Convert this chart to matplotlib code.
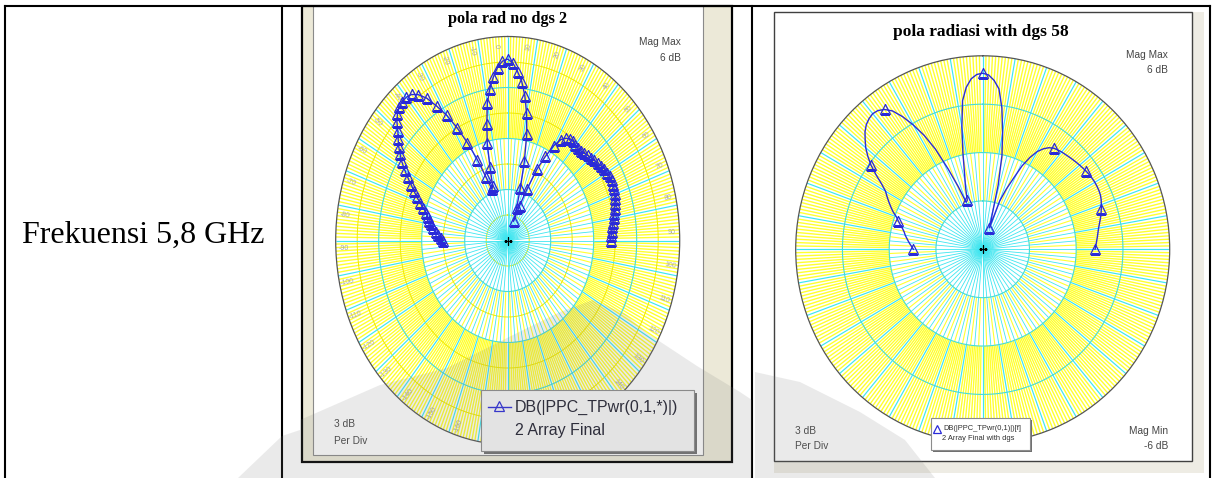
import numpy as np
import matplotlib
matplotlib.use("Agg")
import matplotlib.pyplot as plt
from matplotlib.patches import Rectangle, Polygon
from matplotlib.lines import Line2D

W, H = 1215, 478

# angles of the computed pattern, degrees (0 = broadside, clockwise positive)
angles = np.arange(-90, 91, 2)

# |PPC_TPwr| in dB, 2 Array Final (no DGS)
db_no_dgs = [-1.5, -1.35, -1.15, -0.95, -0.75, -0.55, -0.4, -0.25, -0.1, 0.2,
             0.5, 0.85, 1.15, 1.5, 1.9, 2.3, 2.7, 3.05, 3.4, 3.7,
             4.0, 4.4, 4.7, 4.9, 5.0, 5.0, 4.9, 4.6, 4.1, 3.3,
             2.5, 1.5, 0.4, -0.8, -2.0, -2.8, -2.6, -1.5, -0.1, 1.0,
             2.2, 3.0, 3.65, 4.2, 4.55, 4.67, 4.45, 3.95, 3.4, 2.6,
             1.6, 0.4, -1.2, -2.8, -4.0, -4.8, -3.8, -2.7, -1.3, -0.4,
             0.45, 1.0, 1.25, 1.4, 1.4, 1.35, 1.3, 1.32, 1.4, 1.5,
             1.58, 1.65, 1.75, 1.85, 1.95, 2.0, 2.05, 2.08, 2.06, 2.02,
             1.98, 1.9, 1.8, 1.7, 1.6, 1.5, 1.42, 1.35, 1.28, 1.22,
             1.19]

# |PPC_TPwr| in dB, 2 Array Final with dgs
db_dgs = [-1.55, -1.45, -1.32, -1.2, -1.08, -0.95, -0.85, -0.7, -0.5, -0.3,
          -0.1, 0.2, 0.45, 0.7, 0.95, 1.2, 1.65, 2.25, 2.85, 3.35,
          3.8, 4.15, 4.5, 4.75, 4.9, 4.98, 4.92, 4.72, 4.35, 3.7,
          2.9, 2.0, 0.9, -0.55, -1.8, -2.9, -2.8, -2.0, -1.2, 0.1,
          1.7, 3.3, 4.1, 4.6, 4.85, 4.92, 4.82, 4.5, 4.0, 2.85,
          1.35, -0.05, -1.9, -3.9, -4.6, -2.8, -2.0, -1.25, -0.25, 0.45,
          1.0, 1.35, 1.6, 1.75, 1.82, 1.88, 1.92, 1.97, 2.02, 2.07,
          2.12, 2.17, 2.22, 2.26, 2.29, 2.31, 2.31, 2.3, 2.27, 2.2,
          2.1, 2.0, 1.9, 1.78, 1.66, 1.55, 1.47, 1.4, 1.33, 1.27,
          1.21]

mag_min, mag_max, per_div = -6, 6, 3
angle_ticks = list(range(-170, 181, 10))

CYAN = "#3ee6f0"
YELLOW = "#ffff30"
RING = "#45dcd8"
BLUE = "#2a2ad8"
SERIF = ["Liberation Serif", "DejaVu Serif"]
SANS = ["Liberation Sans", "DejaVu Sans"]

fig = plt.figure(figsize=(W / 100, H / 100), dpi=100, facecolor="white")

# page layer in pixel coordinates
bg = fig.add_axes([0, 0, 1, 1], zorder=0)
bg.set_xlim(0, W)
bg.set_ylim(H, 0)
bg.axis("off")

top = fig.add_axes([0, 0, 1, 1], zorder=5)
top.set_xlim(0, W)
top.set_ylim(H, 0)
top.axis("off")
top.patch.set_visible(False)


def polar_at(cx, cy, rx, ry):
    ax = fig.add_axes([(cx - rx) / W, (H - cy - ry) / H, 2 * rx / W, 2 * ry / H],
                      projection="polar", zorder=2)
    ax.set_aspect("auto")
    ax.set_theta_zero_location("N")
    ax.set_theta_direction(-1)
    ax.set_ylim(mag_min, mag_max)
    ax.grid(False)
    ax.set_xticks([])
    ax.set_yticks([])
    ax.spines["polar"].set_color("#555555")
    ax.spines["polar"].set_linewidth(0.9)
    return ax


def draw_grid(ax, minor_rings):
    r1 = mag_min + per_div
    r2 = mag_min + 2 * per_div
    d = np.deg2rad
    # fine yellow spokes get denser towards the rim
    ax.vlines(d(np.arange(2.5, 360, 5)), r1, r2, color=YELLOW, lw=0.8, zorder=1)
    fine = np.array([a for a in range(360) if a % 10 != 0])
    ax.vlines(d(fine), r2, mag_max, color=YELLOW, lw=1.0, zorder=1)
    if minor_rings:
        th = np.linspace(0, 2 * np.pi, 361)
        for r in np.arange(mag_min + per_div / 2, mag_max, per_div):
            ax.plot(th, np.full_like(th, r), color="#f0ea00", lw=0.7, zorder=1.5)
    # cyan spokes
    ax.vlines(d(np.arange(0, 360, 5)), mag_min, r2, color=CYAN, lw=0.6, zorder=2)
    ax.vlines(d(np.arange(0, 360, 10)), r2, mag_max, color=CYAN, lw=0.85, zorder=2)
    th = np.linspace(0, 2 * np.pi, 361)
    for r in range(mag_min + per_div, mag_max, per_div):
        ax.plot(th, np.full_like(th, r), color=RING, lw=0.8, zorder=2.5)
    ax.plot(0, mag_min, marker="+", color="black", ms=6, mew=0.9, zorder=6)


theta = np.deg2rad(angles)

# ---- table ----
for x in (5, 282, 752, 1210):
    bg.plot([x, x], [6, H], color="black", lw=1.5)
bg.plot([5, 1210], [6, 6], color="black", lw=1.5)
bg.text(143, 235, "Frekuensi 5,8 GHz", family=SERIF, fontsize=23,
        ha="center", va="center", color="black")

# ---- left panel: no dgs ----
bg.add_patch(Rectangle((303, 6), 429, 456, facecolor="#ece9d8", edgecolor="none"))
bg.add_patch(Rectangle((313, 6), 390, 449, facecolor="white", edgecolor="#8a8a8a", lw=0.8))
bg.add_patch(Rectangle((302, 6), 430, 456, facecolor="none", edgecolor="black", lw=1.6))
bg.text(507.7, 19, "pola rad no dgs 2", family=SERIF, weight="bold", fontsize=11.7,
        ha="center", va="center", color="black")
for txt, y in (("Mag Max", 42), ("6 dB", 58)):
    bg.text(681, y, txt, family=SANS, fontsize=7.3, ha="right", va="center", color="#454545")
for txt, y in (("3 dB", 424), ("Per Div", 441)):
    bg.text(334, y, txt, family=SANS, fontsize=7.3, ha="left", va="center", color="#454545")

cx1, cy1, rx1, ry1 = 507.7, 240.5, 172, 204
leg1 = (481, 390, 213, 61)
ax1 = polar_at(cx1, cy1, rx1, ry1)
draw_grid(ax1, minor_rings=True)
for a in angle_ticks:
    t = np.deg2rad(a - 2.5)
    px = cx1 + 0.955 * rx1 * np.sin(t)
    py = cy1 - 0.955 * ry1 * np.cos(t)
    # labels under the legend box stay hidden
    if leg1[0] - 4 < px < leg1[0] + leg1[2] and leg1[1] - 4 < py < leg1[1] + leg1[3]:
        continue
    rot = 90 - a
    if rot > 90:
        rot -= 180
    if rot <= -90:
        rot += 180
    ax1.text(t, mag_min + 0.955 * (mag_max - mag_min), str(a),
             fontsize=5, color="#a8a8a8", family=SANS, rotation=rot,
             rotation_mode="anchor", ha="center", va="center", zorder=3)
ax1.plot(theta, db_no_dgs, color=BLUE, lw=1.0, marker="^", ms=6.5,
         mfc="none", mec=BLUE, mew=0.9, zorder=5)

# legend box (no dgs)
top.add_patch(Rectangle((leg1[0] + 3, leg1[1] + 3), leg1[2], leg1[3],
                        facecolor="#707070", edgecolor="none"))
top.add_patch(Rectangle(leg1[:2], leg1[2], leg1[3], facecolor="#f7f7f7",
                        edgecolor="#8c8c8c", lw=0.8))
top.add_line(Line2D([488, 511], [407, 407], color=BLUE, lw=1.0))
top.add_line(Line2D([499], [406], marker="^", ms=6.5, mfc="none", mec=BLUE, mew=0.9))
top.text(515, 407, "DB(|PPC_TPwr(0,1,*)|)", family=SANS, fontsize=11.5,
         ha="left", va="center", color="#202030")
top.text(515, 431, "2 Array Final", family=SANS, fontsize=11.5,
         ha="left", va="center", color="#202030")

# ---- right panel: with dgs ----
bg.add_patch(Rectangle((774, 12), 430, 461, facecolor="#eeece4", edgecolor="none"))
bg.add_patch(Rectangle((774, 12), 418, 449, facecolor="white", edgecolor="#404040", lw=1.0))
bg.text(980.7, 32, "pola radiasi with dgs 58", family=SERIF, weight="bold", fontsize=12.5,
        ha="center", va="center", color="black")
for txt, y in (("Mag Max", 55), ("6 dB", 70), ("Mag Min", 431), ("-6 dB", 446)):
    bg.text(1168, y, txt, family=SANS, fontsize=7.3, ha="right", va="center", color="#454545")
for txt, y in (("3 dB", 431), ("Per Div", 446)):
    bg.text(795, y, txt, family=SANS, fontsize=7.3, ha="left", va="center", color="#454545")

ax2 = polar_at(982.7, 249.3, 187, 193.5)
draw_grid(ax2, minor_rings=False)
ax2.plot(theta, db_dgs, color=BLUE, lw=1.0, marker="^", ms=7, markevery=9,
         mfc="none", mec=BLUE, mew=0.9, zorder=5)

# legend box (with dgs)
top.add_patch(Rectangle((933, 420), 99, 32, facecolor="#707070", edgecolor="none"))
top.add_patch(Rectangle((931, 418), 99, 32, facecolor="white", edgecolor="#8c8c8c", lw=0.8))
top.add_line(Line2D([937], [428.5], marker="^", ms=5.5, mfc="none", mec=BLUE, mew=0.9))
top.text(943, 429, "DB(|PPC_TPwr(0,1)|)[f]", family=SANS, fontsize=5.4,
         ha="left", va="center", color="#303030")
top.text(978, 439, "2 Array Final with dgs", family=SANS, fontsize=5.4,
         ha="center", va="center", color="#303030")

# faint page watermark along the bottom
wm = dict(facecolor="#808080", edgecolor="none", alpha=0.16, zorder=10)
top.add_patch(Polygon([(300, 478), (300, 420), (380, 385), (447, 368), (513, 335),
                       (560, 312), (593, 300), (625, 314), (647, 333), (697, 366),
                       (740, 392), (752, 400), (752, 478)], closed=True, **wm))
top.add_patch(Polygon([(755, 478), (755, 372), (800, 382), (860, 412), (905, 440),
                       (935, 478)], closed=True, **wm))
top.add_patch(Polygon([(238, 478), (282, 436), (300, 430), (300, 478)], closed=True, **wm))

fig.savefig("out.png", dpi=100, facecolor="white")
